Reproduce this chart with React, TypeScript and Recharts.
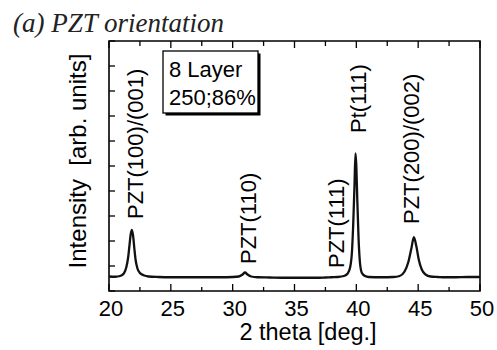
import React from "react";
import { LineChart, Line, XAxis, YAxis, ReferenceDot, ReferenceArea } from "recharts";

// 2 theta [deg.] and intensity [arb. units]
const twoTheta = [
  20.0, 20.5, 20.9, 21.2, 21.4, 21.55, 21.65, 21.75, 21.85, 21.95, 22.05, 22.15, 22.3, 22.5, 22.8, 23.2,
  24.0, 25.0, 26.0, 27.0, 28.0, 29.0, 30.0, 30.5, 30.8, 31.0, 31.2, 31.5, 32.0, 33.0, 34.0, 35.0, 36.0,
  37.0, 37.5, 38.0, 38.5, 39.0, 39.3, 39.5, 39.65, 39.75, 39.85, 39.93, 40.0, 40.08, 40.18, 40.3, 40.45,
  40.7, 41.0, 42.0, 43.0, 43.5, 43.9, 44.2, 44.45, 44.65, 44.85, 45.05, 45.3, 45.6, 46.0, 46.6, 47.0,
  48.0, 49.0, 50.0,
];
const intensity = [
  0.58, 0.57, 0.6, 0.7, 0.95, 1.35, 1.8, 2.25, 2.44, 2.2, 1.7, 1.25, 0.9, 0.72, 0.63, 0.58,
  0.56, 0.55, 0.55, 0.55, 0.55, 0.55, 0.56, 0.58, 0.66, 0.74, 0.66, 0.58, 0.55, 0.54, 0.53, 0.53, 0.53,
  0.53, 0.54, 0.55, 0.56, 0.6, 0.7, 0.95, 1.6, 2.7, 4.2, 5.5, 5.0, 3.6, 2.1, 1.1, 0.72,
  0.6, 0.56, 0.55, 0.56, 0.6, 0.78, 1.15, 1.7, 2.15, 1.8, 1.25, 0.85, 0.66, 0.58, 0.56, 0.55,
  0.55, 0.56, 0.56,
];

const xTicks = [20, 22.5, 25, 27.5, 30, 32.5, 35, 37.5, 40, 42.5, 45, 47.5, 50];
const yTicks = [0, 1, 2, 3, 4, 5, 6, 7, 8, 9, 10];

const peakNames = ["PZT(100)/(001)", "PZT(110)", "PZT(111)", "Pt(111)", "PZT(200)/(002)"];
const peakLabelX = [22.75, 31.89, 39.0, 40.78, 45.07];
const peakLabelY = [2.88, 1.08, 0.92, 6.32, 2.68];

const data = twoTheta.map((t, i) => ({ t, v: intensity[i] }));

const SANS = "'Liberation Sans', Arial, sans-serif";
const W = 497;
const H = 350;
const AX = 10; // thickness given to every axis
const M = { top: 41 - AX, right: 17 - AX, bottom: 59 - AX, left: 109 - AX };
// plot-frame edges that follow from the margins above
const PL = M.left + AX;
const PR = W - M.right - AX;
const PT = M.top + AX;
const PB = H - M.bottom - AX;

const BottomTick = (p: any) => {
  const v = p.payload.value;
  const major = v % 5 === 0;
  const len = major ? 7 : 4;
  return (
    <g>
      <path d={`M${p.x},${PB}V${PB - len}`} stroke="#000" strokeWidth={1.3} fill="none" />
      {major && (
        <text x={p.x + 2} y={PB + 25} textAnchor="middle" fontFamily={SANS} fontSize={22} fill="#000">
          {v}
        </text>
      )}
    </g>
  );
};

const TopTick = (p: any) => {
  const v = p.payload.value;
  const major = v % 5 === 0;
  return <path d={`M${p.x},${PT}V${PT + (major ? 7 : 5)}`} stroke="#000" strokeWidth={1.3} fill="none" />;
};

const LeftTick = (p: any) => <path d={`M${PL},${p.y}H${PL + 6}`} stroke="#000" strokeWidth={1.3} fill="none" />;
const RightTick = (p: any) => <path d={`M${PR},${p.y}H${PR - 6}`} stroke="#000" strokeWidth={1.3} fill="none" />;

const makeLabel = (name: string) => (p: any) => (
  <text
    x={p.cx}
    y={p.cy}
    transform={`rotate(-90 ${p.cx} ${p.cy})`}
    textAnchor="start"
    fontFamily={SANS}
    fontSize={22}
    fill="#000"
  >
    {name}
  </text>
);

export default function App() {
  return (
    <div style={{ position: "absolute", left: 0, top: 0, width: W, height: H, background: "#fff" }}>
      <LineChart width={W} height={H} data={data} margin={M}>
        <XAxis
          xAxisId="b"
          dataKey="t"
          type="number"
          domain={[20, 50]}
          ticks={xTicks}
          interval={0}
          tickSize={0}
          tickMargin={0}
          tickLine={false}
          tick={<BottomTick />}
          axisLine={false}
          height={AX}
        />
        <XAxis
          xAxisId="t"
          orientation="top"
          dataKey="t"
          type="number"
          domain={[20, 50]}
          ticks={xTicks}
          interval={0}
          tickSize={0}
          tickMargin={0}
          tickLine={false}
          tick={<TopTick />}
          axisLine={false}
          height={AX}
        />
        <YAxis
          yAxisId="l"
          type="number"
          domain={[0, 10]}
          ticks={yTicks}
          interval={0}
          tickSize={0}
          tickMargin={0}
          tickLine={false}
          tick={<LeftTick />}
          axisLine={false}
          width={AX}
        />
        <YAxis
          yAxisId="r"
          orientation="right"
          type="number"
          domain={[0, 10]}
          ticks={yTicks}
          interval={0}
          tickSize={0}
          tickMargin={0}
          tickLine={false}
          tick={<RightTick />}
          axisLine={false}
          width={AX}
        />
        <ReferenceArea
          xAxisId="b"
          yAxisId="l"
          x1={20}
          x2={50}
          y1={0}
          y2={10}
          fill="none"
          fillOpacity={0}
          stroke="#000"
          strokeWidth={1.6}
          strokeOpacity={1}
          ifOverflow="visible"
        />
        <Line
          xAxisId="b"
          yAxisId="l"
          dataKey="v"
          type="monotone"
          stroke="#111"
          strokeWidth={2.3}
          dot={false}
          isAnimationActive={false}
        />
        {peakNames.map((n, i) => (
          <ReferenceDot
            key={n}
            xAxisId="b"
            yAxisId="l"
            x={peakLabelX[i]}
            y={peakLabelY[i]}
            r={0}
            ifOverflow="visible"
            shape={makeLabel(n)}
          />
        ))}
        <text x={13} y={32} fontFamily="'Liberation Serif', 'Times New Roman', serif" fontStyle="italic" fontSize={27} fill="#222">
          (a) PZT orientation
        </text>
        <text x={308} y={340} textAnchor="middle" fontFamily={SANS} fontSize={23.5} fill="#000">
          2 theta [deg.]
        </text>
        <text
          x={86}
          y={161}
          transform="rotate(-90 86 161)"
          textAnchor="middle"
          fontFamily={SANS}
          fontSize={24}
          fill="#000"
          style={{ whiteSpace: "pre" }}
        >
          {"Intensity  [arb. units]"}
        </text>
        <rect x={165.5} y={53.5} width={95} height={62} fill="#000" />
        <rect x={163} y={51} width={95} height={62} fill="#fff" stroke="#000" strokeWidth={1.3} />
        <text x={169} y={77} fontFamily={SANS} fontSize={22} fill="#000">8 Layer</text>
        <text x={169} y={105} fontFamily={SANS} fontSize={22} fill="#000">250;86%</text>
      </LineChart>
    </div>
  );
}
